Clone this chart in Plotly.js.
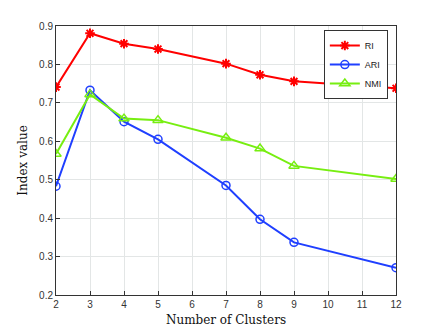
<!DOCTYPE html>
<html>
<head>
<meta charset="utf-8">
<script src="https://cdn.plot.ly/plotly-3.0.1.min.js"></script>
<style>
  html, body { margin: 0; padding: 0; background: #fff; }
  #plot { width: 436px; height: 333px; }
</style>
</head>
<body>
<div id="plot"></div>
<script>
var clusters = [2, 3, 4, 5, 7, 8, 9, 12];
var riValues = [0.741, 0.881, 0.854, 0.840, 0.802, 0.773, 0.756, 0.738];
var ariValues = [0.483, 0.733, 0.651, 0.605, 0.485, 0.397, 0.337, 0.271];
var nmiValues = [0.567, 0.722, 0.659, 0.655, 0.609, 0.581, 0.536, 0.502];
var xTicks = [2, 3, 4, 5, 6, 7, 8, 9, 10, 11, 12];
var yTicks = [0.2, 0.3, 0.4, 0.5, 0.6, 0.7, 0.8, 0.9];

var traceRI = {
  x: clusters, y: riValues, name: "RI", mode: "lines+markers",
  line: { color: "#ff0000", width: 2 },
  marker: { symbol: "asterisk-open", size: 8, color: "#ff0000", line: { color: "#ff0000", width: 2 } }
};
var traceARI = {
  x: clusters, y: ariValues, name: "ARI", mode: "lines+markers",
  line: { color: "#1f3fff", width: 2 },
  marker: { symbol: "circle-open", size: 8, color: "#1f3fff", line: { width: 1.5 } }
};
var traceNMI = {
  x: clusters, y: nmiValues, name: "NMI", mode: "lines+markers",
  line: { color: "#77ee11", width: 2 },
  marker: { symbol: "triangle-up-open", size: 9, color: "#77ee11", line: { width: 1.5 } }
};

var data = [traceRI, traceARI, traceNMI];

var layout = {
  width: 436, height: 333,
  margin: { l: 56, r: 40, t: 26, b: 38 },
  paper_bgcolor: "#fff", plot_bgcolor: "#fff",
  showlegend: true,
  legend: {
    x: 0.976, y: 0.985, xanchor: "right", yanchor: "top",
    bgcolor: "#fff", bordercolor: "#333", borderwidth: 1,
    font: { family: "Liberation Sans, Arial, sans-serif", size: 9, color: "#222" },
    itemwidth: 30, tracegroupgap: 0
  },
  xaxis: {
    range: [2, 12], tickvals: xTicks,
    ticks: "inside", ticklen: 4, tickcolor: "#333",
    showgrid: true, gridcolor: "#e3e6e6",
    showline: true, linecolor: "#333", linewidth: 1, mirror: true,
    zeroline: false,
    tickfont: { family: "Liberation Sans, Arial, sans-serif", size: 10, color: "#333" },
    title: { text: "Number of Clusters", standoff: 6,
      font: { family: "DejaVu Serif, serif", size: 12, color: "#111" } }
  },
  yaxis: {
    range: [0.2, 0.9], tickvals: yTicks, tickformat: ".1f",
    ticks: "inside", ticklen: 4, tickcolor: "#333",
    showgrid: true, gridcolor: "#e3e6e6",
    showline: true, linecolor: "#333", linewidth: 1, mirror: true,
    zeroline: false,
    tickfont: { family: "Liberation Sans, Arial, sans-serif", size: 10, color: "#333" },
    title: { text: "Index value", standoff: 8,
      font: { family: "DejaVu Serif, serif", size: 12, color: "#111" } }
  }
};

Plotly.newPlot("plot", data, layout, { displayModeBar: false, staticPlot: true });
</script>
</body>
</html>
